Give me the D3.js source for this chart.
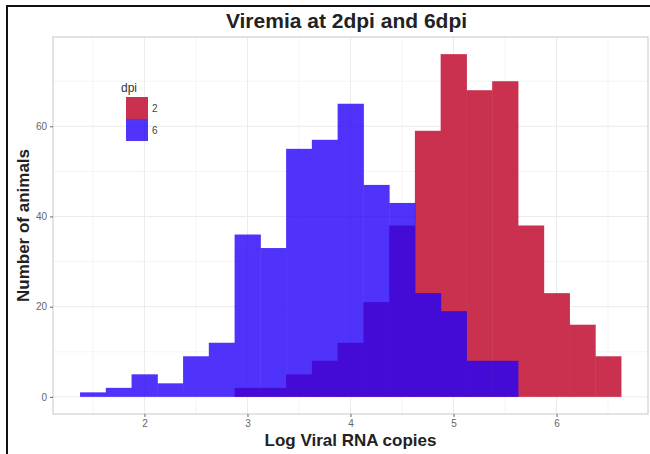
<!DOCTYPE html>
<html>
<head>
<meta charset="utf-8">
<script src="https://cdn.jsdelivr.net/npm/d3@7"></script>
<style>
  body { margin: 0; background: #fff; }
  text { font-family: "Liberation Sans", Arial, sans-serif; }
</style>
</head>
<body>
<svg id="chart"></svg>
<script>
// canvas size
var width = 650,
    height = 454;

// histogram bins (left edge of each bin, log viral RNA copies)
var binStarts = [1.375, 1.625, 1.875, 2.125, 2.375, 2.625, 2.875, 3.125, 3.375, 3.625,
                 3.875, 4.125, 4.375, 4.625, 4.875, 5.125, 5.375, 5.625, 5.875, 6.125, 6.375];
var binWidth = 0.25;

// counts per bin, one list per dpi group
var dpiLevels = ["2", "6"];
var counts2dpi = [0, 0, 0, 0, 0, 0, 2, 2, 5, 8, 12, 21, 38, 59, 76, 68, 70, 38, 23, 16, 9];
var counts6dpi = [1, 2, 5, 3, 9, 12, 36, 33, 55, 57, 65, 47, 43, 23, 19, 8, 8, 0, 0, 0, 0];

// axis ticks
var xTicks = [2, 3, 4, 5, 6];
var xMinor = [1.5, 2.5, 3.5, 4.5, 5.5, 6.5];
var yTicks = [0, 20, 40, 60];
var yMinor = [10, 30, 50, 70];

// fill colours (6dpi is drawn on top with some transparency)
var fills = { "2": "#c9314e", "6": "#2401f9" };
var alphas = { "2": 1, "6": 0.8 };

// panel position
var panel = { left: 53, right: 648, top: 37, bottom: 414 };

var svg = d3.select("#chart")
    .attr("width", width)
    .attr("height", height);

svg.append("rect")
    .attr("width", width).attr("height", height)
    .attr("fill", "#fff");

// outer frame of the figure
svg.append("rect")
    .attr("x", 7).attr("y", 6)
    .attr("width", 700).attr("height", 500)
    .attr("fill", "none")
    .attr("stroke", "#111")
    .attr("stroke-width", 2);

// scales with ggplot style expansion
var xLo = binStarts[0], xHi = binStarts[binStarts.length - 1] + binWidth;
var xPad = (xHi - xLo) * 0.05;
var x = d3.scaleLinear()
    .domain([xLo - xPad, xHi + xPad])
    .range([panel.left, panel.right]);

var yMax = d3.max(counts2dpi.concat(counts6dpi));
var y = d3.scaleLinear()
    .domain([-yMax * 0.05, yMax * 1.05])
    .range([panel.bottom, panel.top]);

// gridlines
var grid = svg.append("g").attr("class", "grid");
grid.selectAll(".xminor").data(xMinor).enter().append("line")
    .attr("x1", d => x(d)).attr("x2", d => x(d))
    .attr("y1", panel.top).attr("y2", panel.bottom)
    .attr("stroke", "#f4f4f4");
grid.selectAll(".yminor").data(yMinor).enter().append("line")
    .attr("y1", d => y(d)).attr("y2", d => y(d))
    .attr("x1", panel.left).attr("x2", panel.right)
    .attr("stroke", "#f4f4f4");
grid.selectAll(".xmajor").data(xTicks).enter().append("line")
    .attr("x1", d => x(d)).attr("x2", d => x(d))
    .attr("y1", panel.top).attr("y2", panel.bottom)
    .attr("stroke", "#ebebeb");
grid.selectAll(".ymajor").data(yTicks).enter().append("line")
    .attr("y1", d => y(d)).attr("y2", d => y(d))
    .attr("x1", panel.left).attr("x2", panel.right)
    .attr("stroke", "#ebebeb");

// histogram bars, group "2" first then "6"
var series = [
    { dpi: "2", counts: counts2dpi },
    { dpi: "6", counts: counts6dpi }
];

series.forEach(function (s) {
    var bars = binStarts.map(function (b, i) {
        return { x0: b, x1: b + binWidth, n: s.counts[i] };
    }).filter(d => d.n > 0);

    // opacity on the group so neighbouring bars do not show seams
    svg.append("g")
        .attr("class", "bars-" + s.dpi)
        .attr("opacity", alphas[s.dpi])
        .selectAll("rect")
        .data(bars)
        .enter().append("rect")
        .attr("x", d => x(d.x0))
        .attr("width", d => x(d.x1) - x(d.x0) + 0.5)
        .attr("y", d => y(d.n))
        .attr("height", d => y(0) - y(d.n))
        .attr("fill", fills[s.dpi]);
});

// panel border
svg.append("rect")
    .attr("x", panel.left).attr("y", panel.top)
    .attr("width", panel.right - panel.left)
    .attr("height", panel.bottom - panel.top)
    .attr("fill", "none")
    .attr("stroke", "#c8c8c8");

// axes
var xAxis = svg.append("g")
    .attr("transform", "translate(0," + panel.bottom + ")")
    .call(d3.axisBottom(x).tickValues(xTicks).tickSize(3).tickPadding(3).tickFormat(d3.format("d")));
var yAxis = svg.append("g")
    .attr("transform", "translate(" + panel.left + ",0)")
    .call(d3.axisLeft(y).tickValues(yTicks).tickSize(3).tickPadding(3).tickFormat(d3.format("d")));

[xAxis, yAxis].forEach(function (a) {
    a.select(".domain").remove();
    a.selectAll(".tick line").attr("stroke", "#666");
    a.selectAll(".tick text")
        .attr("fill", "#666")
        .style("font-size", "10px")
        .style("font-family", "Liberation Sans, Arial, sans-serif");
});

// title and axis titles
svg.append("text")
    .attr("x", (panel.left + panel.right) / 2 - 4)
    .attr("y", 28)
    .attr("text-anchor", "middle")
    .style("font-size", "21px")
    .style("font-weight", "bold")
    .attr("fill", "#222")
    .text("Viremia at 2dpi and 6dpi");

svg.append("text")
    .attr("x", (panel.left + panel.right) / 2)
    .attr("y", 446)
    .attr("text-anchor", "middle")
    .style("font-size", "17px")
    .style("font-weight", "bold")
    .attr("fill", "#222")
    .text("Log Viral RNA copies");

svg.append("text")
    .attr("transform", "translate(29," + ((panel.top + panel.bottom) / 2) + ") rotate(-90)")
    .attr("text-anchor", "middle")
    .style("font-size", "17px")
    .style("font-weight", "bold")
    .attr("fill", "#222")
    .text("Number of animals");

// legend
var legend = svg.append("g")
    .attr("transform", "translate(126,86)");

legend.append("text")
    .attr("x", -5).attr("y", 6)
    .style("font-size", "12px")
    .attr("fill", "#333")
    .text("dpi");

legend.selectAll("rect")
    .data(dpiLevels)
    .enter().append("rect")
    .attr("x", 0)
    .attr("y", (d, i) => 11 + i * 22)
    .attr("width", 22).attr("height", 22)
    .attr("fill", d => fills[d])
    .attr("fill-opacity", d => alphas[d]);

legend.selectAll(".lab")
    .data(dpiLevels)
    .enter().append("text")
    .attr("x", 26)
    .attr("y", (d, i) => 26 + i * 22)
    .style("font-size", "10px")
    .attr("fill", "#444")
    .text(d => d);
</script>
</body>
</html>
